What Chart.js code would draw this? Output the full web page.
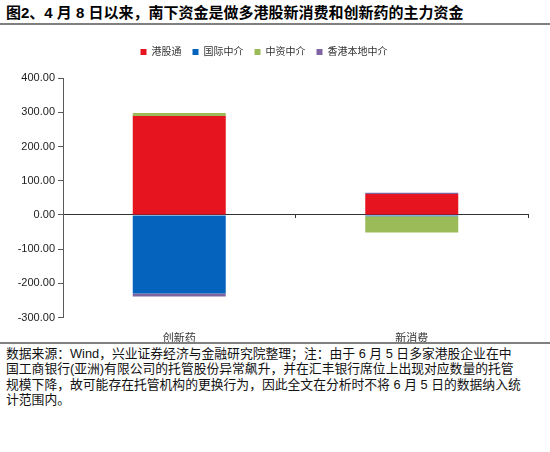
<!DOCTYPE html>
<html>
<head>
<meta charset="utf-8">
<script src="https://cdn.jsdelivr.net/npm/chart.js@4.4.1/dist/chart.umd.min.js"></script>
<style>
  body { margin: 0; background: #fff; width: 550px; height: 452px; overflow: hidden;
         font-family: "Liberation Sans", "Noto Sans CJK SC", sans-serif; }
  #title { height: 23px; line-height: 25px; padding-left: 6px; font-size: 15px; font-weight: bold;
           color: #000; border-bottom: 2px solid #808080; white-space: nowrap; }
  #wrap { position: relative; width: 550px; height: 317px; }
  #note { border-top: 2px solid #808080; padding: 2px 0 0 6px; font-size: 12.8px; line-height: 15.3px;
          color: #111; white-space: nowrap; }
</style>
</head>
<body>
<div id="title">图2、4 月 8 日以来，南下资金是做多港股新消费和创新药的主力资金</div>
<div id="wrap"><canvas id="flowChart"></canvas></div>
<div id="note">数据来源：Wind，兴业证券经济与金融研究院整理；注：由于 6 月 5 日多家港股企业在中<br>国工商银行(亚洲)有限公司的托管股份异常飙升，并在汇丰银行席位上出现对应数量的托管<br>规模下降，故可能存在托管机构的更换行为，因此全文在分析时不将 6 月 5 日的数据纳入统<br>计范围内。</div>
<script>
// categories and series
const categories = ['创新药', '新消费'];
const ggtValues = [289, 61];        // 港股通
const intlValues = [-229, -4];      // 国际中介
const chinaValues = [9, -47];       // 中资中介
const hkLocalValues = [-9, 4];      // 香港本地中介
const yTicks = [-300, -200, -100, 0, 100, 200, 300, 400];

const fontFamily = '"Liberation Sans", "Noto Sans CJK SC", sans-serif';

// extra room under the legend
const legendGap = {
    id: 'legendGap',
    beforeInit(chart) {
        const fit = chart.legend.fit;
        chart.legend.fit = function() {
            fit.bind(chart.legend)();
            this.height += 11;
        };
    }
};

const ctx = document.getElementById('flowChart').getContext('2d');
new Chart(ctx, {
    type: 'bar',
    data: {
        labels: categories,
        datasets: [
            { label: '港股通', data: ggtValues, backgroundColor: '#E5141E' },
            { label: '国际中介', data: intlValues, backgroundColor: '#0563BE' },
            { label: '中资中介', data: chinaValues, backgroundColor: '#9BBB59' },
            { label: '香港本地中介', data: hkLocalValues, backgroundColor: '#8064A2' }
        ]
    },
    plugins: [legendGap],
    options: {
        responsive: true,
        maintainAspectRatio: false,
        animation: false,
        layout: { padding: { top: 11, right: 22, left: 0, bottom: 0 } },
        datasets: {
            bar: { categoryPercentage: 1, barPercentage: 0.4 }
        },
        plugins: {
            tooltip: { enabled: false },
            legend: {
                position: 'top',
                labels: {
                    boxWidth: 6,
                    boxHeight: 6,
                    padding: 11,
                    color: '#333',
                    font: { size: 10, family: fontFamily }
                }
            }
        },
        scales: {
            x: {
                stacked: true,
                grid: { display: false },
                border: { display: false },
                ticks: {
                    padding: 7,
                    color: '#333',
                    font: { size: 11, family: fontFamily }
                },
                afterFit: function(scale) { scale.height = 24.3; }
            },
            // zero line with the category ticks, drawn over the bars
            x0: {
                type: 'category',
                position: { y: 0 },
                offset: true,
                z: 1,
                grid: { display: true, drawOnChartArea: false, tickLength: 3, color: '#333', offset: true },
                border: { display: true, color: '#333', width: 1 },
                ticks: { display: false }
            },
            y: {
                stacked: true,
                min: -300,
                max: 400,
                afterBuildTicks: function(scale) {
                    scale.ticks = yTicks.map(v => ({ value: v }));
                },
                grid: { drawOnChartArea: false, drawTicks: true, tickLength: 5, color: '#595959' },
                border: { color: '#595959' },
                ticks: {
                    padding: 3,
                    color: '#222',
                    font: { size: 11, family: fontFamily },
                    callback: function(value) { return Number(value).toFixed(2); }
                },
                afterFit: function(scale) { scale.width = 63; }
            }
        }
    }
});
</script>
</body>
</html>
